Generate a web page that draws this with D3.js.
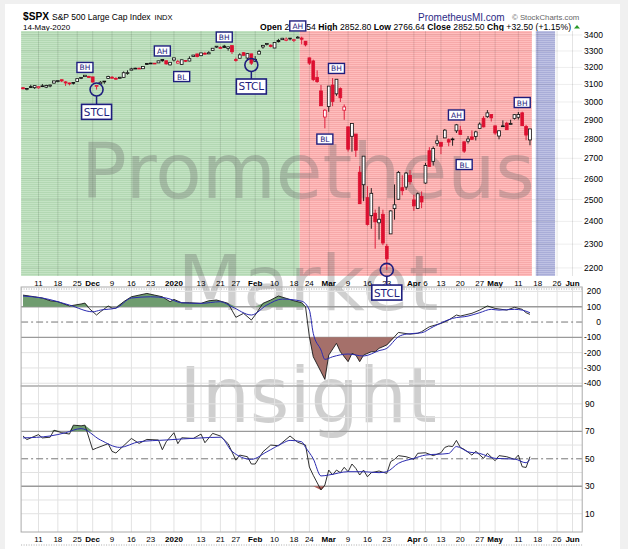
<!DOCTYPE html>
<html>
<head>
<meta charset="utf-8">
<script src="https://cdn.jsdelivr.net/npm/d3@7"></script>
<style>
body { margin: 0; background: #f0f0f0; }
svg { display: block; }
</style>
</head>
<body>
<div id="chart"></div>
<script>
// trading calendar
var firstDay = "2019-11-05", lastDay = "2020-06-06";
var holidays = ["2019-11-28","2019-12-25","2020-01-01","2020-01-20","2020-02-17","2020-04-10","2020-05-25"];

// daily candles, 2019-11-05 .. 2020-05-14
var opens = [
 3080.80,3075.10,3087.02,3081.25,3080.33,3089.28,3084.18,3090.75,3107.92,3117.91,3127.45,3114.66,3108.49,3111.41,3117.44,3134.85,3145.49,3147.18,
 3143.85,3087.41,3103.50,3119.21,3134.62,3141.86,3135.36,3135.75,3141.23,3166.65,3183.63,3195.40,3195.21,3192.32,3223.33,3226.05,3225.45,3227.20,3247.23,3240.09,3215.18,
 3244.67,3226.36,3217.55,3241.86,3238.59,3266.03,3281.81,3271.13,3285.35,3282.27,3302.97,3323.66,3321.03,3330.02,3315.77,3333.10,3247.16,3255.35,3289.46,3256.45,3282.33,
 3235.66,3280.61,3324.91,3344.92,3335.54,3318.28,3365.87,3370.50,3365.90,3378.08,3369.04,3380.39,3380.45,3360.50,3257.61,3238.94,3139.90,3062.54,2916.90,
 2974.28,3096.46,3045.75,3075.70,2954.20,2863.89,2813.48,2825.60,2630.86,2569.99,2508.59,2425.66,2436.50,2393.48,2431.94,2290.71,2344.44,2457.77,2501.29,2555.87,2558.98,2614.69,
 2498.08,2458.54,2514.92,2578.28,2738.65,2685.00,2776.99,2782.46,2805.10,2795.64,2799.34,2842.43,2845.62,2784.81,2787.89,2810.42,2812.64,2854.65,2909.96,2918.46,2930.91,
 2869.09,2815.01,2868.88,2883.14,2878.26,2908.83,2915.46,2939.50,2865.86,2794.54];
var highs = [
 3083.95,3078.34,3097.77,3093.09,3088.33,3102.61,3098.06,3098.20,3120.46,3124.17,3127.64,3118.97,3110.11,3112.87,3133.83,3142.69,3154.26,3150.30,
 3144.31,3094.97,3119.38,3119.45,3150.60,3148.87,3142.12,3143.98,3176.28,3182.68,3197.71,3198.22,3198.48,3205.48,3225.65,3227.78,3226.43,3240.08,3247.93,3240.92,3231.72,
 3258.14,3246.15,3246.84,3244.91,3267.07,3275.58,3282.99,3288.13,3294.25,3298.66,3317.11,3329.88,3329.79,3337.77,3326.88,3333.18,3258.85,3285.78,3293.47,3285.91,3282.33,
 3268.44,3306.92,3337.58,3347.96,3341.42,3352.26,3375.63,3381.47,3385.09,3380.69,3375.01,3393.52,3389.15,3360.76,3259.81,3246.99,3182.51,3097.07,2959.72,
 3090.96,3136.72,3130.97,3083.04,2985.93,2863.89,2882.59,2825.60,2660.95,2711.33,2562.98,2553.93,2453.57,2466.97,2453.01,2300.73,2449.71,2571.42,2637.01,2615.91,2631.80,2641.39,
 2522.75,2533.22,2538.18,2676.85,2756.89,2760.75,2818.57,2782.46,2851.85,2801.88,2806.51,2879.22,2868.98,2785.54,2815.10,2844.90,2842.71,2887.72,2921.15,2954.86,2930.91,
 2869.09,2844.24,2898.23,2891.11,2901.92,2932.16,2944.25,2945.82,2874.14,2852.80];
var lows = [
 3072.15,3065.89,3080.23,3073.58,3075.82,3084.73,3078.80,3083.26,3104.60,3112.06,3113.47,3091.41,3094.55,3099.26,3117.44,3131.00,3143.41,3139.34,
 3110.78,3070.33,3102.53,3103.76,3134.62,3135.46,3126.09,3133.21,3138.47,3156.51,3183.63,3191.03,3191.14,3192.32,3216.03,3222.30,3220.51,3227.20,3234.37,3216.57,3212.03,
 3235.53,3222.34,3214.64,3232.43,3236.67,3263.67,3260.86,3268.43,3277.19,3280.69,3302.82,3318.86,3316.61,3320.04,3301.87,3281.53,3234.50,3253.22,3271.89,3242.80,3214.68,
 3235.66,3280.61,3313.75,3334.39,3322.12,3317.77,3352.72,3369.72,3360.52,3366.15,3355.61,3378.83,3341.02,3328.45,3214.65,3118.77,3108.99,2977.39,2855.84,
 2945.19,2976.63,3034.38,2999.83,2901.54,2734.43,2734.00,2707.22,2478.86,2492.37,2380.94,2367.04,2280.52,2319.78,2295.56,2191.86,2344.44,2407.53,2500.72,2520.02,2545.28,2571.15,
 2447.49,2455.79,2459.96,2574.57,2657.67,2663.30,2762.36,2721.17,2805.10,2761.54,2764.32,2830.88,2820.43,2727.10,2775.95,2794.26,2791.76,2852.89,2860.71,2912.16,2892.47,
 2821.61,2797.85,2863.55,2847.65,2876.48,2902.88,2903.44,2869.59,2793.15,2766.64];
var closes = [
 3074.62,3076.78,3085.18,3093.08,3087.01,3091.84,3094.04,3096.63,3120.46,3122.03,3120.18,3108.46,3103.54,3110.29,3133.64,3140.52,3153.63,3140.98,
 3113.87,3093.20,3112.76,3117.43,3145.91,3135.96,3132.52,3141.63,3168.57,3168.80,3191.45,3192.52,3191.14,3205.37,3221.22,3224.01,3223.38,3239.91,3240.02,3221.29,3230.78,
 3257.85,3234.85,3246.28,3237.18,3253.05,3274.70,3265.35,3288.13,3283.15,3289.29,3316.81,3329.62,3320.79,3321.75,3325.54,3295.47,3243.63,3276.24,3273.40,3283.66,3225.52,
 3248.92,3297.59,3334.69,3345.78,3327.71,3352.09,3357.75,3379.45,3373.94,3380.16,3370.29,3386.15,3373.23,3337.75,3225.89,3128.21,3116.39,2978.76,2954.22,
 3090.23,3003.37,3130.12,3023.94,2972.37,2746.56,2882.23,2741.38,2480.64,2711.02,2386.13,2529.19,2398.10,2409.39,2304.92,2237.40,2447.33,2475.56,2630.07,2541.47,2626.65,2584.59,
 2470.50,2526.90,2488.65,2663.68,2659.41,2749.98,2789.82,2761.63,2846.06,2783.36,2799.55,2874.56,2823.16,2736.56,2799.31,2797.80,2836.74,2878.48,2863.39,2939.51,2912.43,
 2830.71,2842.74,2868.44,2848.42,2881.19,2929.80,2930.32,2870.12,2820.00,2852.50];

// middle panel (CCI)
var cciDates = ["2019-11-05","2019-11-08","2019-11-12","2019-11-14","2019-11-18","2019-11-21","2019-11-26","2019-11-27","2019-11-29","2019-12-03","2019-12-04","2019-12-06","2019-12-09","2019-12-10","2019-12-12","2019-12-16","2019-12-20","2019-12-24","2019-12-27","2019-12-31",
 "2020-01-02","2020-01-06","2020-01-08","2020-01-13","2020-01-15","2020-01-17","2020-01-23","2020-01-27","2020-01-29","2020-01-31","2020-02-03","2020-02-05","2020-02-07","2020-02-11","2020-02-13","2020-02-18","2020-02-20","2020-02-21","2020-02-24","2020-02-25","2020-02-27","2020-02-28",
 "2020-03-02","2020-03-04","2020-03-05","2020-03-09","2020-03-10","2020-03-11","2020-03-12","2020-03-13","2020-03-17","2020-03-18","2020-03-19","2020-03-23","2020-03-25","2020-03-26","2020-03-31",
 "2020-04-02","2020-04-03","2020-04-07","2020-04-13","2020-04-15","2020-04-17","2020-04-20","2020-04-23","2020-04-27","2020-04-29","2020-05-01","2020-05-06","2020-05-08","2020-05-12","2020-05-13","2020-05-14"];
var cciLine = [176,165,157,139,133,105,118,124,91,46,67,105,91,91,133,165,187,176,165,133,
 148,126,126,122,139,144,122,31,57,13,46,122,144,170,155,139,126,100,-96,-227,-325,-375,
 -216,-139,-194,-259,-205,-216,-259,-216,-194,-194,-172,-150,-96,-68,-79,
 -74,-63,-31,-9,13,46,39,57,78,105,89,78,96,83,61,50];
var cciSigDates = ["2019-11-05","2019-11-12","2019-11-21","2019-12-02","2019-12-04","2019-12-10","2019-12-16","2019-12-23","2019-12-30","2020-01-06","2020-01-13","2020-01-21","2020-01-24","2020-01-31","2020-02-06","2020-02-12","2020-02-20","2020-02-24","2020-02-25","2020-02-27","2020-02-28",
 "2020-03-03","2020-03-09","2020-03-13","2020-03-19","2020-03-23","2020-03-26","2020-03-30","2020-04-03","2020-04-08","2020-04-16","2020-04-22","2020-04-27","2020-04-30","2020-05-04","2020-05-08","2020-05-12","2020-05-14"];
var cciSignal = [170,157,111,67,78,91,157,165,157,126,122,133,100,46,111,150,136,78,-74,-183,-244,
 -227,-209,-222,-187,-172,-96,-79,-70,-31,24,39,61,83,78,83,78,61];

// bottom panel (RSI)
var rsiDates = ["2019-11-05","2019-11-06","2019-11-11","2019-11-12","2019-11-14","2019-11-15","2019-11-19","2019-11-21","2019-11-22","2019-11-26","2019-11-27","2019-12-02","2019-12-03","2019-12-06","2019-12-09","2019-12-10","2019-12-16","2019-12-18","2019-12-20","2019-12-26","2019-12-27","2019-12-30",
 "2020-01-02","2020-01-03","2020-01-06","2020-01-09","2020-01-13","2020-01-14","2020-01-16","2020-01-21","2020-01-23","2020-01-27","2020-01-28","2020-01-30","2020-01-31","2020-02-03","2020-02-05","2020-02-07","2020-02-11","2020-02-14","2020-02-19","2020-02-21","2020-02-24","2020-02-25","2020-02-27","2020-02-28",
 "2020-03-02","2020-03-03","2020-03-04","2020-03-05","2020-03-06","2020-03-09","2020-03-10","2020-03-11","2020-03-12","2020-03-13","2020-03-16","2020-03-17","2020-03-19","2020-03-23","2020-03-24","2020-03-25","2020-03-26","2020-03-30",
 "2020-04-01","2020-04-02","2020-04-06","2020-04-08","2020-04-13","2020-04-14","2020-04-15","2020-04-16","2020-04-17","2020-04-20","2020-04-21","2020-04-23","2020-04-24","2020-04-28","2020-04-29",
 "2020-05-01","2020-05-04","2020-05-06","2020-05-08","2020-05-11","2020-05-12","2020-05-13","2020-05-14"];
var rsiLine = [66.6,64,67.6,65.2,65.7,70.8,69,68,74.5,74,74.5,56.6,57.8,61,55.4,54.2,64.8,61.2,64.1,63.7,56.6,62.4,
 69,61,65.3,64.8,68,61.7,68.5,66.6,61,49,52.7,51.5,46.2,46.2,55.1,60,59.5,66.6,62,60,44,38,27.3,30.9,
 41.8,38.2,41.8,39.9,43.8,40.6,46.2,43,38.2,41.8,36.9,39.9,41.1,39.4,47.9,49.6,52.3,51.5,
 49.6,54,54.4,52.3,54.4,58.3,59.3,58.9,63.4,58.3,56.9,52.7,55.5,50.3,54,
 48.6,52.3,51.5,49.6,52.7,44.2,43.7,51.5];
var rsiSigDates = ["2019-11-05","2019-11-14","2019-11-20","2019-11-26","2019-12-04","2019-12-11","2019-12-18","2019-12-30","2020-01-13","2020-01-21","2020-01-24","2020-01-31","2020-02-06","2020-02-12","2020-02-14","2020-02-20","2020-02-21","2020-02-25","2020-02-27",
 "2020-03-02","2020-03-09","2020-03-13","2020-03-19","2020-03-23","2020-03-26","2020-04-01","2020-04-06","2020-04-15","2020-04-17","2020-04-22","2020-04-27","2020-05-01","2020-05-08","2020-05-13","2020-05-14"];
var rsiSignal = [65.2,66.6,69,72,63.7,58.3,62.4,63.7,65.2,65.7,55.4,49.6,55.1,61.2,63.4,62.4,58.3,50,37.5,
 38.2,40.6,40.6,39.9,40.6,46.7,50.3,52.7,53.9,58.9,55.1,53.9,50.3,49.8,47.1,49.6];

// axis labels
var tickDates = ["2019-11-11","2019-11-18","2019-11-25","2019-12-02","2019-12-09","2019-12-16","2019-12-23","2020-01-02","2020-01-13","2020-01-21","2020-01-27","2020-02-03","2020-02-10","2020-02-18","2020-02-24",
 "2020-03-02","2020-03-09","2020-03-16","2020-03-23","2020-04-01","2020-04-06","2020-04-13","2020-04-20","2020-04-27","2020-05-01","2020-05-11","2020-05-18","2020-05-26","2020-06-01"];
var tickLabels = ["11","18","25","Dec","9","16","23","2020","13","21","27","Feb","10","18","24","Mar","9","16","23","Apr","6","13","20","27","May","11","18","26","Jun"];
var boldLabels = ["Dec","2020","Feb","Mar","Apr","May","Jun"];
var priceTicks = [2200,2300,2400,2500,2600,2700,2800,2900,3000,3100,3200,3300,3400];
var cciTicks = [200,100,0,-100,-200,-300,-400];
var rsiTicks = [90,70,50,30,10];

// shaded periods
var bandStarts = ["2019-11-05","2020-02-20","2020-05-18"];
var bandEnds = ["2020-02-19","2020-05-14","2020-05-22"];
var bandKinds = ["green","red","blue"];

// chart notes
var noteDates = ["2019-11-27","2019-12-27","2020-01-06","2020-01-22","2020-02-19","2020-03-04","2020-02-28","2020-04-17","2020-04-21","2020-05-12"];
var notePrices = [3200,3300,3146,3387,3458,3194,2799,2928,2669,2997];
var noteTexts = ["BH","AH","BL","BH","AH","BH","BL","AH","BL","BH"];
var stclDates = ["2019-12-03","2020-01-31","2020-03-23"];
var stclBoxPrices = [2945,3088,2101];

var W = 628, H = 549;
var navy = "#1e1e7e", red = "#dd1030";

var parseDay = d3.timeParse("%Y-%m-%d"), fmtDay = d3.timeFormat("%Y-%m-%d");
var hol = new Set(holidays);
var tradingDays = d3.timeDay.range(parseDay(firstDay), parseDay(lastDay))
  .filter(function(d){ return d.getDay() % 6 !== 0 && !hol.has(fmtDay(d)); })
  .map(fmtDay);

var x = d3.scaleLinear().domain([-0.5, 144.5]).range([21.1, 582.2]);
function xd(s){ return x(tradingDays.indexOf(s)); }

var py = d3.scaleLog().domain([2167, 3425.5]).range([276, 31]);
var cy = d3.scaleLinear().domain([-418, 229]).range([386, 287]);
var ry = d3.scaleLinear().domain([-3.3, 103]).range([532, 386]);

var svg = d3.select("#chart").append("svg")
  .attr("width", W).attr("height", H)
  .style("font-family", "'Liberation Sans', Arial, sans-serif");

svg.append("rect").attr("width", W).attr("height", H).attr("fill", "#f0f0f0");
svg.append("rect").attr("x", 5).attr("y", 4).attr("width", 615).attr("height", H).attr("fill", "white");

// striped fills
var defs = svg.append("defs");
var bandColors = {green: ["#c4e3c4", "#b3d8b3"], red: ["#ffbdbd", "#f7a9a9"], blue: ["#bec1e3", "#a9add8"]};
Object.keys(bandColors).forEach(function(k){
  var p = defs.append("pattern").attr("id", "stripe-" + k)
    .attr("patternUnits", "userSpaceOnUse").attr("width", 4).attr("height", 2);
  p.append("rect").attr("width", 4).attr("height", 2).attr("fill", bandColors[k][0]);
  p.append("rect").attr("width", 4).attr("height", 1).attr("fill", bandColors[k][1]);
});

// header
var head = svg.append("g");
head.append("text").attr("x", 23).attr("y", 20).attr("font-size", 11).attr("font-weight", "bold")
  .attr("textLength", 26).attr("lengthAdjust", "spacingAndGlyphs").text("$SPX");
head.append("text").attr("x", 52).attr("y", 20).attr("font-size", 8.5)
  .text("S&P 500 Large Cap Index")
  .append("tspan").attr("dx", 4).attr("font-size", 7.5).text("INDX");
head.append("text").attr("x", 23).attr("y", 29.5).attr("font-size", 8).text("14-May-2020");
head.append("text").attr("x", 418).attr("y", 21).attr("font-size", 10).attr("fill", "#2b2b86").text("PrometheusMI.com");
head.append("text").attr("x", 512).attr("y", 20).attr("font-size", 7.8).attr("fill", "#666").text("\u00a9 StockCharts.com");

var ohlc = [["Open ", "2794.54  "], ["High ", "2852.80  "], ["Low ", "2766.64  "], ["Close ", "2852.50  "], ["Chg ", "+32.50 (+1.15%)"]];
var ol = head.append("text").attr("x", 260).attr("y", 29.5).attr("font-size", 8.6)
  .attr("textLength", 311).attr("lengthAdjust", "spacing");
ohlc.forEach(function(p){
  ol.append("tspan").attr("font-weight", "bold").text(p[0]);
  ol.append("tspan").text(p[1]);
});
head.append("path").attr("d", "M574,28.5L580,28.5L577,25Z").attr("fill", "#2a9a2a");

// price panel
var price = svg.append("g");
bandKinds.forEach(function(k, i){
  var a = x(tradingDays.indexOf(bandStarts[i]) - 0.5), b = x(tradingDays.indexOf(bandEnds[i]) + 0.5);
  price.append("rect").attr("x", a).attr("y", 31).attr("width", b - a).attr("height", 245)
    .attr("fill", "url(#stripe-" + k + ")");
});
price.selectAll(".hgrid").data(priceTicks).enter().append("line")
  .attr("x1", x.range()[0]).attr("x2", x.range()[1])
  .attr("y1", function(d){ return py(d); }).attr("y2", function(d){ return py(d); })
  .attr("stroke", "rgba(0,0,0,0.07)");
price.selectAll(".vgrid").data(tickDates).enter().append("line")
  .attr("x1", xd).attr("x2", xd).attr("y1", 31).attr("y2", 276)
  .attr("stroke", "rgba(0,0,0,0.11)");
price.selectAll(".plab").data(priceTicks).enter().append("text")
  .attr("x", 603).attr("y", function(d){ return py(d) + 3; })
  .attr("text-anchor", "end").attr("font-size", 8.5).text(function(d){ return d; });

// watermark
var wm = svg.append("g").attr("font-family", "'DejaVu Sans', sans-serif").attr("font-size", 76)
  .attr("fill", "rgba(105,105,105,0.32)").attr("text-anchor", "middle");
[["Prometheus", 198], ["Market", 310], ["Insight", 422]].forEach(function(w){
  wm.append("text").attr("x", 308).attr("y", w[1]).text(w[0]);
});

// candles
var cnd = svg.append("g");
closes.forEach(function(c, i){
  var o = opens[i], prev = i > 0 ? closes[i - 1] : o;
  var col = c >= prev ? "#111" : red;
  var cx = x(i);
  cnd.append("line").attr("x1", cx).attr("x2", cx).attr("y1", py(highs[i])).attr("y2", py(lows[i]))
    .attr("stroke", col).attr("stroke-width", 0.9);
  var top = py(Math.max(o, c)), bot = py(Math.min(o, c));
  cnd.append("rect").attr("x", cx - 1.4).attr("y", top).attr("width", 2.8).attr("height", Math.max(bot - top, 0.8))
    .attr("fill", c > o ? "white" : col).attr("stroke", col).attr("stroke-width", 0.8);
});

// x axis rows
function axisRow(yBase){
  var g = svg.append("g");
  g.selectAll("text").data(tickDates).enter().append("text")
    .attr("x", xd).attr("y", yBase).attr("text-anchor", "middle").attr("font-size", 8)
    .attr("font-weight", function(d, i){ return boldLabels.indexOf(tickLabels[i]) >= 0 ? "bold" : "normal"; })
    .text(function(d, i){ return tickLabels[i]; });
  g.append("line").attr("x1", x.range()[0]).attr("x2", x.range()[1]).attr("y1", yBase + 3.5).attr("y2", yBase + 3.5)
    .attr("stroke", "#aaa").attr("stroke-dasharray", "1,1.5");
}
axisRow(285.5);
axisRow(541.5);

// indicator panels
function panel(yScale, light, heavy, mid, top, bottom){
  var g = svg.append("g");
  g.selectAll(".v").data(tickDates).enter().append("line")
    .attr("x1", xd).attr("x2", xd).attr("y1", top).attr("y2", bottom).attr("stroke", "#e2e2e2");
  g.selectAll(".l").data(light).enter().append("line")
    .attr("x1", x.range()[0]).attr("x2", x.range()[1])
    .attr("y1", yScale).attr("y2", yScale).attr("stroke", "#e2e2e2");
  g.selectAll(".h").data(heavy).enter().append("line")
    .attr("x1", x.range()[0]).attr("x2", x.range()[1])
    .attr("y1", yScale).attr("y2", yScale).attr("stroke", "#9a9a9a").attr("stroke-width", 1.3);
  g.append("line").attr("x1", x.range()[0]).attr("x2", x.range()[1])
    .attr("y1", yScale(mid)).attr("y2", yScale(mid))
    .attr("stroke", "#777").attr("stroke-dasharray", "7,3,2,3");
  g.append("rect").attr("x", x.range()[0]).attr("y", top).attr("width", x.range()[1] - x.range()[0])
    .attr("height", bottom - top).attr("fill", "none").attr("stroke", "#aaa");
  return g;
}

function drawIndicator(g, yScale, dates, vals, sigDates, sig, hi, lo, hiCol, loCol){
  var pts = dates.map(function(d, i){ return [xd(d), vals[i]]; });
  g.append("path").datum(pts).attr("fill", hiCol)
    .attr("d", d3.area().x(function(p){ return p[0]; }).y0(yScale(hi))
      .y1(function(p){ return yScale(Math.max(p[1], hi)); }));
  g.append("path").datum(pts).attr("fill", loCol)
    .attr("d", d3.area().x(function(p){ return p[0]; }).y0(yScale(lo))
      .y1(function(p){ return yScale(Math.min(p[1], lo)); }));
  g.append("path").datum(pts).attr("fill", "none").attr("stroke", "#1a1a1a").attr("stroke-width", 0.9)
    .attr("d", d3.line().x(function(p){ return p[0]; }).y(function(p){ return yScale(p[1]); }));
  var sp = sigDates.map(function(d, i){ return [xd(d), sig[i]]; });
  g.append("path").datum(sp).attr("fill", "none").attr("stroke", "#2b2bb0").attr("stroke-width", 1)
    .attr("d", d3.line().curve(d3.curveMonotoneX).x(function(p){ return p[0]; }).y(function(p){ return yScale(p[1]); }));
}

var p2 = panel(cy, [200, -200, -300, -400], [100, -100], 0, 287, 386);
drawIndicator(p2, cy, cciDates, cciLine, cciSigDates, cciSignal, 100, -100, "#6f9c6f", "#a5706a");
svg.selectAll(".clab").data(cciTicks).enter().append("text")
  .attr("x", 601).attr("y", function(d){ return cy(d) + 3; })
  .attr("text-anchor", "end").attr("font-size", 8.5).text(function(d){ return d; });

var p3 = panel(ry, [10, 20, 40, 60, 80, 90], [70, 30], 50, 386, 532);
drawIndicator(p3, ry, rsiDates, rsiLine, rsiSigDates, rsiSignal, 70, 30, "#6f9c6f", "#b0605a");
svg.selectAll(".rlab").data(rsiTicks).enter().append("text")
  .attr("x", 585).attr("y", function(d){ return ry(d) + 3; })
  .attr("font-size", 8.5).text(function(d){ return d; });

// notes
var notes = svg.append("g").attr("font-family", "'DejaVu Sans', sans-serif");
noteTexts.forEach(function(t, i){
  var nx = xd(noteDates[i]), ny = py(notePrices[i]);
  notes.append("rect").attr("x", nx - 8).attr("y", ny - 5).attr("width", 16).attr("height", 10)
    .attr("fill", "white").attr("stroke", navy).attr("stroke-width", 1.4);
  notes.append("text").attr("x", nx).attr("y", ny + 3).attr("text-anchor", "middle")
    .attr("font-size", 7.5).attr("fill", navy).text(t);
});
stclDates.forEach(function(d, i){
  var k = tradingDays.indexOf(d), nx = x(k), ny = py(lows[k]), by = py(stclBoxPrices[i]);
  notes.append("line").attr("x1", nx).attr("x2", nx).attr("y1", ny + 6.5).attr("y2", by - 7.5)
    .attr("stroke", navy).attr("stroke-width", 1.5);
  notes.append("circle").attr("cx", nx).attr("cy", ny).attr("r", 6.5)
    .attr("fill", "none").attr("stroke", navy).attr("stroke-width", 1.6);
  notes.append("rect").attr("x", nx - 15).attr("y", by - 7.5).attr("width", 30).attr("height", 15)
    .attr("fill", "white").attr("stroke", navy).attr("stroke-width", 1.6);
  notes.append("text").attr("x", nx).attr("y", by + 4).attr("text-anchor", "middle")
    .attr("font-size", 10.5).attr("fill", navy).text("STCL");
});
</script>
</body>
</html>
